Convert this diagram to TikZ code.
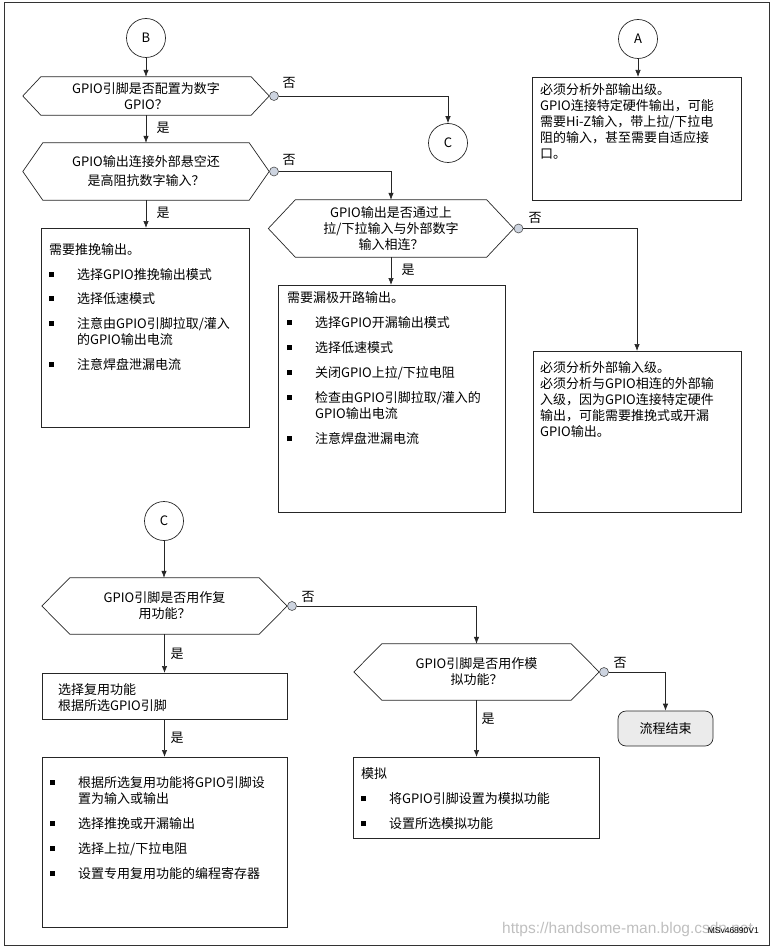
\documentclass[tikz,border=0pt]{standalone}
\usepackage{fontspec}
\setmainfont{Noto Sans CJK SC}
\newfontfamily\wmfont{Liberation Sans}
\usetikzlibrary{arrows.meta,positioning}

\definecolor{knotblue}{RGB}{205,212,224}
\newcommand{\bul}{\makebox[28pt][l]{\rule[2.5pt]{5pt}{5pt}}}
\newcommand{\hexa}[2]{\draw[wire] (#1.west) -- ([xshift=#2]#1.north west) -- ([xshift=-#2]#1.north east) -- (#1.east) -- ([xshift=-#2]#1.south east) -- ([xshift=#2]#1.south west) -- cycle;}

\begin{document}
\begin{tikzpicture}[x=1pt, y=-1pt, font=\fontsize{13}{16}\selectfont,
    wire/.style={draw=black!85, line width=0.7pt},
    arr/.style={wire, -{Latex[length=7pt,width=5.5pt]}},
    conn/.style={circle, wire, minimum size=39pt, inner sep=0pt},
    ask/.style={align=center, inner sep=0pt, minimum width=245pt},
    box/.style={rectangle, wire, inner sep=0pt, anchor=north west},
    txt/.style={align=left, inner sep=0pt},
    knot/.style={circle, draw=black!70, line width=0.6pt, fill=knotblue, minimum size=9pt, inner sep=0pt},
    lbl/.style={inner sep=0pt},
    finish/.style={rectangle, rounded corners=8pt, wire, fill=black!8, minimum width=95pt, minimum height=35pt}
  ]
    \useasboundingbox (0,0) rectangle (775,952);
    \draw[black!80, line width=1pt] (4,3) rectangle (769,945);

    % connectors B, A, C
    \node[conn] (cB) at (146,38) {B};
    \node[conn] (cA) at (638,39) {A};
    \node[conn] (cC) at (448,143) {C};
    \node[conn] (cC2) at (164,521) {C};

    % questions
    \node[ask, minimum width=246pt, minimum height=38pt] (q1) at (146,96) {GPIO引脚是否配置为数字\\GPIO？};
    \hexa{q1}{18}
    \node[ask, minimum width=246pt, minimum height=57pt] (q2) at (146,171.5) {GPIO输出连接外部悬空还\\[3pt]是高阻抗数字输入？};
    \hexa{q2}{20}
    \node[ask, minimum height=57pt] (q3) at (391,228.5) {GPIO输出是否通过上\\拉/下拉输入与外部数字\\输入相连？};
    \hexa{q3}{27}
    \node[ask, minimum height=56pt] (q4) at (164.5,606) {GPIO引脚是否用作复\\用功能？};
    \hexa{q4}{28}
    \node[ask, minimum height=56pt] (q5) at (476.5,672) {GPIO引脚是否用作模\\拟功能？};
    \hexa{q5}{28}

    \node[knot, right=0pt of q1.east] (k1) {};
    \node[knot, right=0pt of q2.east] (k2) {};
    \node[knot, right=0pt of q3.east] (k3) {};
    \node[knot, right=0pt of q4.east] (k4) {};
    \node[knot, right=0pt of q5.east] (k5) {};

    % boxes
    \node[box, minimum width=209pt, minimum height=123pt] (outA) at (532,77) {};
    \node[box, minimum width=208pt, minimum height=199pt] (pp) at (41,228) {};
    \node[box, minimum width=227pt, minimum height=227pt] (od) at (278,285) {};
    \node[box, minimum width=208pt, minimum height=161pt] (inA) at (533,351) {};
    \node[box, minimum width=245pt, minimum height=46pt] (alt) at (42,673) {};
    \node[box, minimum width=245pt, minimum height=170pt] (cfg) at (42,757) {};
    \node[box, minimum width=246pt, minimum height=81pt] (ana) at (353,757) {};
    \node[finish] (done) at (665.5,728.5) {流程结束};

    % box texts
    \node[txt, below right=6.5pt and 8pt of outA.north west] (outAt) {必须分析外部输出级。\\GPIO连接特定硬件输出，可能\\需要Hi-Z输入，带上拉/下拉电\\阻的输入，甚至需要自适应接\\口。};
    \node[txt, below right=15.5pt and 8pt of pp.north west] (ppt) {需要推挽输出。\\[9pt]
      \bul 选择GPIO推挽输出模式\\[8pt]
      \bul 选择低速模式\\[9pt]
      \bul 注意由GPIO引脚拉取/灌入\\\hspace*{28pt}的GPIO输出电流\\[9pt]
      \bul 注意焊盘泄漏电流};
    \node[txt, below right=6.5pt and 9pt of od.north west] (odt) {需要漏极开路输出。\\[9pt]
      \bul 选择GPIO开漏输出模式\\[9pt]
      \bul 选择低速模式\\[9pt]
      \bul 关闭GPIO上拉/下拉电阻\\[9pt]
      \bul 检查由GPIO引脚拉取/灌入的\\\hspace*{28pt}GPIO输出电流\\[9pt]
      \bul 注意焊盘泄漏电流};
    \node[txt, below right=10.5pt and 7pt of inA.north west] (inAt) {必须分析外部输入级。\\必须分析与GPIO相连的外部输\\入级，因为GPIO连接特定硬件\\输出，可能需要推挽式或开漏\\GPIO输出。};
    \node[txt, below right=10.5pt and 16pt of alt.north west] (altt) {选择复用功能\\根据所选GPIO引脚};
    \node[txt, below right=19.5pt and 8pt of cfg.north west] (cfgt) {\bul 根据所选复用功能将GPIO引脚设\\\hspace*{28pt}置为输入或输出\\[9pt]
      \bul 选择推挽或开漏输出\\[9pt]
      \bul 选择上拉/下拉电阻\\[9pt]
      \bul 设置专用复用功能的编程寄存器};
    \node[txt, below right=10.5pt and 8pt of ana.north west] (anat) {模拟\\[9pt]
      \bul 将GPIO引脚设置为模拟功能\\[9pt]
      \bul 设置所选模拟功能};

    % arrows
    \draw[arr] (cB.south) -- (cB.south |- q1.north);
    \draw[arr] (cA.south) -- (cA.south |- outA.north);
    \draw[arr] (q1.south) -- (q1.south |- q2.north);
    \draw[arr] (q2.south) -- (q2.south |- pp.north);
    \draw[arr] (q3.south) -- (q3.south |- od.north);
    \draw[arr] (k1.east) -| (cC.north);
    \draw[arr] (k2.east) -| (q3.north);
    \draw[arr] (k3.east) -| (637,351);
    \draw[arr] (cC2.south) -- (cC2.south |- q4.north);
    \draw[arr] (q4.south) -- (q4.south |- alt.north);
    \draw[arr] (alt.south -| q4.south) -- (q4.south |- cfg.north);
    \draw[arr] (k4.east) -| (q5.north);
    \draw[arr] (q5.south) -- (q5.south |- ana.north);
    \draw[arr] (k5.east) -| (done.north);

    % yes / no
    \node[lbl] (n1) at (289,83) {否};
    \node[lbl] (n2) at (289,160) {否};
    \node[lbl] (n3) at (535,218) {否};
    \node[lbl] (n4) at (308,597) {否};
    \node[lbl] (n5) at (620,663) {否};
    \node[lbl] (y1) at (163,128) {是};
    \node[lbl] (y2) at (163,213) {是};
    \node[lbl] (y3) at (408,270) {是};
    \node[lbl] (y4) at (177,654) {是};
    \node[lbl] (y5) at (177,738) {是};
    \node[lbl] (y6) at (488,719) {是};

    % marks
    \node[lbl, anchor=west, text=black!25, font=\wmfont\fontsize{15.5}{16}\selectfont] (wm) at (502,929) {https://handsome-man.blog.csdn.net};
    \node[lbl, anchor=east, font=\wmfont\fontsize{8.5}{10}\selectfont] (ms) at (759,931) {MSv46890V1};
\end{tikzpicture}
\end{document}
